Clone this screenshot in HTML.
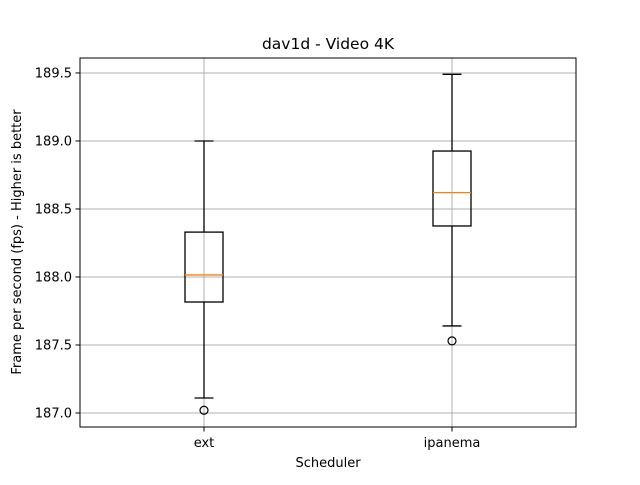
<!DOCTYPE html>
<html><head><meta charset="utf-8"><style>body{margin:0;background:#fff}svg{font-family:"DejaVu Sans","Liberation Sans",sans-serif}</style></head>
<body>
<svg id="chart" width="640" height="480" xmlns="http://www.w3.org/2000/svg">
<rect width="640" height="480" fill="#fff"/>
<g id="grid"></g>
<g id="boxes"></g>
<rect x="80" y="58" width="496" height="369" fill="none" stroke="#000" stroke-width="1"/>
<g id="axes" font-size="13" fill="#000"></g>
<text x="328" y="49" text-anchor="middle" font-size="15.5">dav1d - Video 4K</text>
<text x="328" y="467" text-anchor="middle" font-size="13">Scheduler</text>
<text transform="translate(21,242) rotate(-90)" text-anchor="middle" font-size="13">Frame per second (fps) - Higher is better</text>
</svg>
<script>
const categories = ["ext", "ipanema"];
const whiskerLow = [187.11, 187.64];
const q1 = [187.816, 188.375];
const median = [188.015, 188.62];
const q3 = [188.33, 188.926];
const whiskerHigh = [189.0, 189.49];
const outliers = [[187.02], [187.53]];
const yTicks = [187.0, 187.5, 188.0, 188.5, 189.0, 189.5];

const NS = "http://www.w3.org/2000/svg";
const X0 = 80, X1 = 576, Y0 = 427, Y1 = 58;
const xMin = 0.5, xMax = 2.5, yMin = 186.897, yMax = 189.61;
const xs = v => X0 + (v - xMin) / (xMax - xMin) * (X1 - X0);
const ys = v => Y0 - (v - yMin) / (yMax - yMin) * (Y0 - Y1);
function mk(tag, attrs, parent) {
  const e = document.createElementNS(NS, tag);
  for (const k in attrs) e.setAttribute(k, attrs[k]);
  parent.appendChild(e);
  return e;
}
const grid = document.getElementById("grid"), axes = document.getElementById("axes"), boxes = document.getElementById("boxes");
yTicks.forEach(t => {
  const y = ys(t);
  const g = mk("line", {x1: X0, x2: X1, y1: y, y2: y, stroke: "#b0b0b0", "stroke-width": 1}, grid);
  
  
  const tk = mk("line", {x1: X0 - 4.5, x2: X0, y1: y, y2: y, stroke: "#000", "stroke-width": 1}, axes);
  
  
  const lb = mk("text", {x: X0 - 8, y: y + 4.5, "text-anchor": "end"}, axes);
  lb.textContent = t.toFixed(1);
  
  
});
categories.forEach((c, i) => {
  const x = xs(i + 1);
  const g = mk("line", {x1: x, x2: x, y1: Y0, y2: Y1, stroke: "#b0b0b0", "stroke-width": 1}, grid);
  
  
  const tk = mk("line", {x1: x, x2: x, y1: Y0, y2: Y0 + 4.5, stroke: "#000", "stroke-width": 1}, axes);
  
  
  const lb = mk("text", {x: x, y: Y0 + 20, "text-anchor": "middle"}, axes);
  lb.textContent = c;
  
  

  const grp = mk("g", {}, boxes);
  
  
  const hw = 19, cw = 9.5;
  const st = {stroke: "#000", "stroke-width": 1.3, fill: "none"};
  mk("line", Object.assign({x1: x, x2: x, y1: ys(q1[i]), y2: ys(whiskerLow[i])}, st), grp);
  mk("line", Object.assign({x1: x, x2: x, y1: ys(q3[i]), y2: ys(whiskerHigh[i])}, st), grp);
  mk("line", Object.assign({x1: x - cw, x2: x + cw, y1: ys(whiskerLow[i]), y2: ys(whiskerLow[i])}, st), grp);
  mk("line", Object.assign({x1: x - cw, x2: x + cw, y1: ys(whiskerHigh[i]), y2: ys(whiskerHigh[i])}, st), grp);
  mk("rect", Object.assign({x: x - hw, y: ys(q3[i]), width: 2 * hw, height: ys(q1[i]) - ys(q3[i])}, st), grp);
  mk("line", {x1: x - hw, x2: x + hw, y1: ys(median[i]), y2: ys(median[i]), stroke: "#ff7f0e", "stroke-width": 1.3}, grp);
  outliers[i].forEach(o => {
    const ci = mk("circle", {cx: x, cy: ys(o), r: 4, fill: "none", stroke: "#000", "stroke-width": 1.2}, grp);
    
    
  });
});
</script>
</body></html>
